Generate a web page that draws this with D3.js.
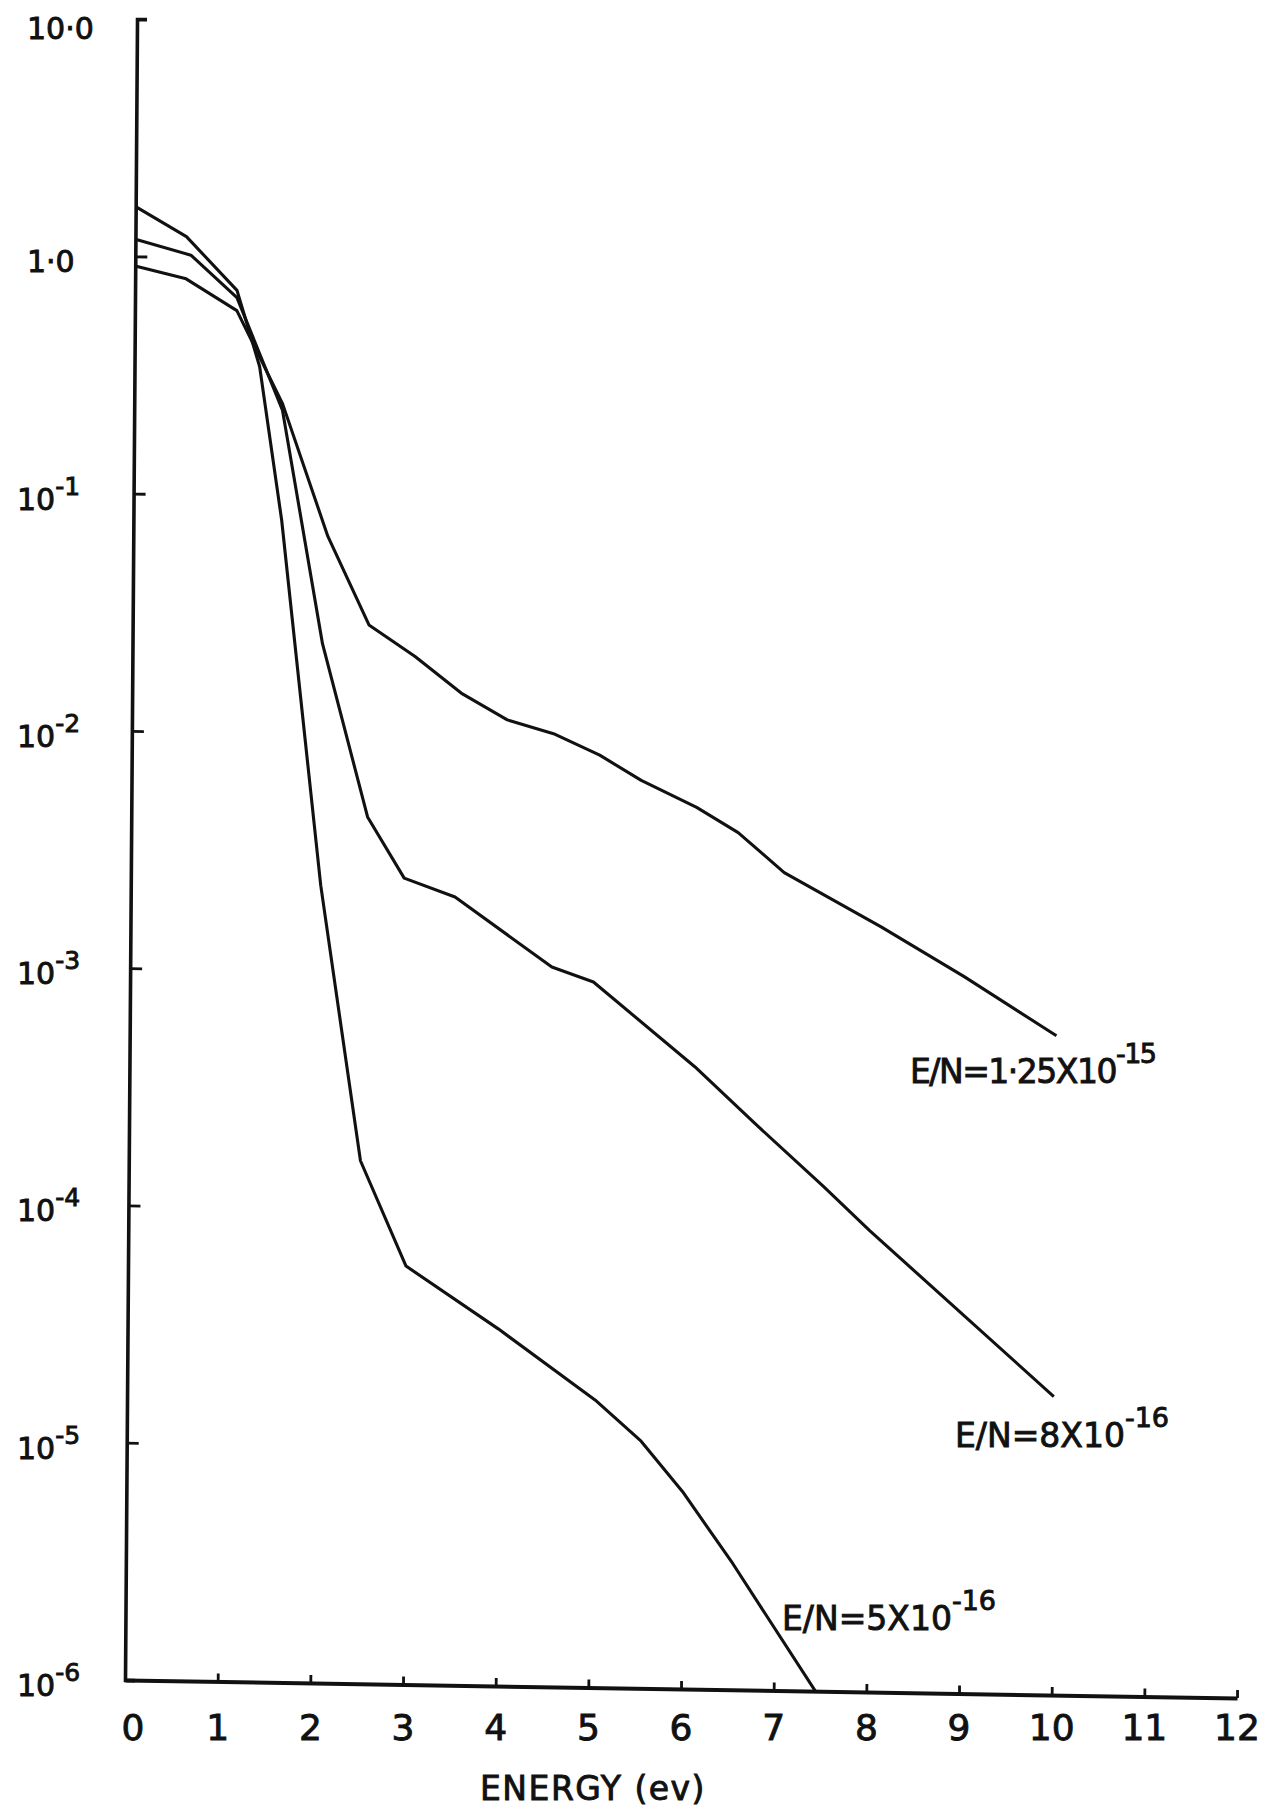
<!DOCTYPE html>
<html>
<head>
<meta charset="utf-8">
<script src="https://cdn.jsdelivr.net/npm/d3@7"></script>
<style>
  body { margin: 0; background: #fff; }
  svg { display: block; }
  text { font-family: "DejaVu Sans", sans-serif; fill: #111; stroke: #111; stroke-width: 0.9px; }
</style>
</head>
<body>
<svg id="chart"></svg>
<script>
// energy (eV) and distribution values, one pair of arrays per E/N
const energyLow = [0, 0.55, 1.1, 1.35, 1.6, 2.05, 2.5, 3.0, 4.0, 5.05, 5.55, 6.0, 6.55, 7.45];
const fLow = [1.62, 1.22, 0.73, 0.35, 0.079, 0.0023, 0.00016, 0.000058, 0.000032, 0.0000163, 0.000011, 0.0000068, 0.0000034, 0.000001];

const energyMid = [0, 0.6, 1.1, 1.6, 2.05, 2.55, 2.95, 3.5, 4.55, 5.0, 6.1, 6.75, 7.5, 8.0, 10.0];
const fMid = [1.18, 1.02, 0.68, 0.23, 0.024, 0.0045, 0.0025, 0.0021, 0.00108, 0.00094, 0.00042, 0.000245, 0.000134, 0.000088, 0.0000181];

const energyHigh = [0, 0.55, 1.1, 1.6, 2.1, 2.55, 3.05, 3.55, 4.05, 4.55, 5.05, 5.5, 6.1, 6.55, 7.05, 8.1, 9.0, 10.0];
const fHigh = [0.91, 0.81, 0.60, 0.245, 0.068, 0.029, 0.0215, 0.0152, 0.0118, 0.0104, 0.0085, 0.0067, 0.0052, 0.0041, 0.0028, 0.00168, 0.00105, 0.0006];

const seriesNames = ["E/N=5X10", "E/N=8X10", "E/N=1·25X10"];
const seriesExp = ["-16", "-16", "-15"];

const xTicks = [0, 1, 2, 3, 4, 5, 6, 7, 8, 9, 10, 11, 12];
const yTicks = [10, 1, 0.1, 0.01, 1e-3, 1e-4, 1e-5, 1e-6];
const yTickText = ["10·0", "1·0", "10", "10", "10", "10", "10", "10"];
const yTickExp = ["", "", "-1", "-2", "-3", "-4", "-5", "-6"];

const width = 1266;
const height = 1814;
const origin = [125, 1680];
// the scanned plot is slightly skewed: x axis drops to the right, y axis leans right
const skewB = 0.0162;
const skewC = -0.00724;

const x = d3.scaleLinear().domain([0, 12]).range([0, 1112]);
const y = d3.scaleLog().domain([1e-6, 10]).range([0, -1661]);

const svg = d3.select("#chart")
    .attr("width", width)
    .attr("height", height);

svg.append("rect")
    .attr("width", width)
    .attr("height", height)
    .attr("fill", "#fff");

const plot = svg.append("g")
    .attr("transform", `matrix(1, ${skewB}, ${skewC}, 1, ${origin[0]}, ${origin[1]})`);

// x axis, ticks pointing up into the plot
plot.append("g")
    .call(d3.axisTop(x).tickValues(xTicks.slice(1)).tickSize(8).tickSizeOuter(0).tickFormat(""))
    .call(g => g.select(".domain").attr("stroke", "#111").attr("stroke-width", 4))
    .call(g => g.selectAll(".tick line").attr("stroke", "#111").attr("stroke-width", 2.8));

// y axis, ticks pointing right into the plot
plot.append("g")
    .call(d3.axisRight(y).tickValues(yTicks.slice(1, -1)).tickSize(12).tickSizeOuter(10).tickFormat(""))
    .call(g => g.select(".domain").attr("stroke", "#111").attr("stroke-width", 3.6))
    .call(g => g.selectAll(".tick line").attr("stroke", "#111").attr("stroke-width", 2.8));

const line = d3.line()
    .x(d => x(d[0]))
    .y(d => y(d[1]));

const series = [
  d3.zip(energyLow, fLow),
  d3.zip(energyMid, fMid),
  d3.zip(energyHigh, fHigh)
];

plot.append("g")
    .attr("fill", "none")
    .attr("stroke", "#111")
    .attr("stroke-width", 3.1)
    .attr("stroke-linejoin", "round")
  .selectAll("path")
  .data(series)
  .join("path")
    .attr("d", line);

// x tick labels
svg.append("g")
    .attr("font-size", 36)
    .attr("text-anchor", "middle")
  .selectAll("text")
  .data(xTicks)
  .join("text")
    .attr("x", d => origin[0] + x(d) + (d === 0 ? 8 : 0))
    .attr("y", 1740)
    .text(d => d);

// y tick labels with superscript exponents
const yl = svg.append("g")
    .attr("font-size", 30)
  .selectAll("text")
  .data(yTicks)
  .join("text")
    .attr("x", (d, i) => i < 2 ? 27 : 17)
    .attr("y", (d, i) => origin[1] + y(d) + (i === 0 ? 20 : 16));

yl.append("tspan").text((d, i) => yTickText[i]);
yl.append("tspan")
    .attr("font-size", 25)
    .attr("dy", -15)
    .text((d, i) => yTickExp[i]);

svg.append("text")
    .attr("x", 593)
    .attr("y", 1800)
    .attr("font-size", 33)
    .attr("letter-spacing", 1.5)
    .attr("text-anchor", "middle")
    .text("ENERGY (ev)");

// curve labels
const labelPos = [[782, 1630], [955, 1447], [910, 1083]];
const lab = svg.append("g")
    .attr("font-size", 33)
  .selectAll("text")
  .data(seriesNames)
  .join("text")
    .attr("x", (d, i) => labelPos[i][0])
    .attr("y", (d, i) => labelPos[i][1])
    .attr("letter-spacing", (d, i) => i === 2 ? -1.5 : 0);

lab.append("tspan").text(d => d);
lab.append("tspan")
    .attr("font-size", 27)
    .attr("dy", -20)
    .text((d, i) => seriesExp[i]);
</script>
</body>
</html>
